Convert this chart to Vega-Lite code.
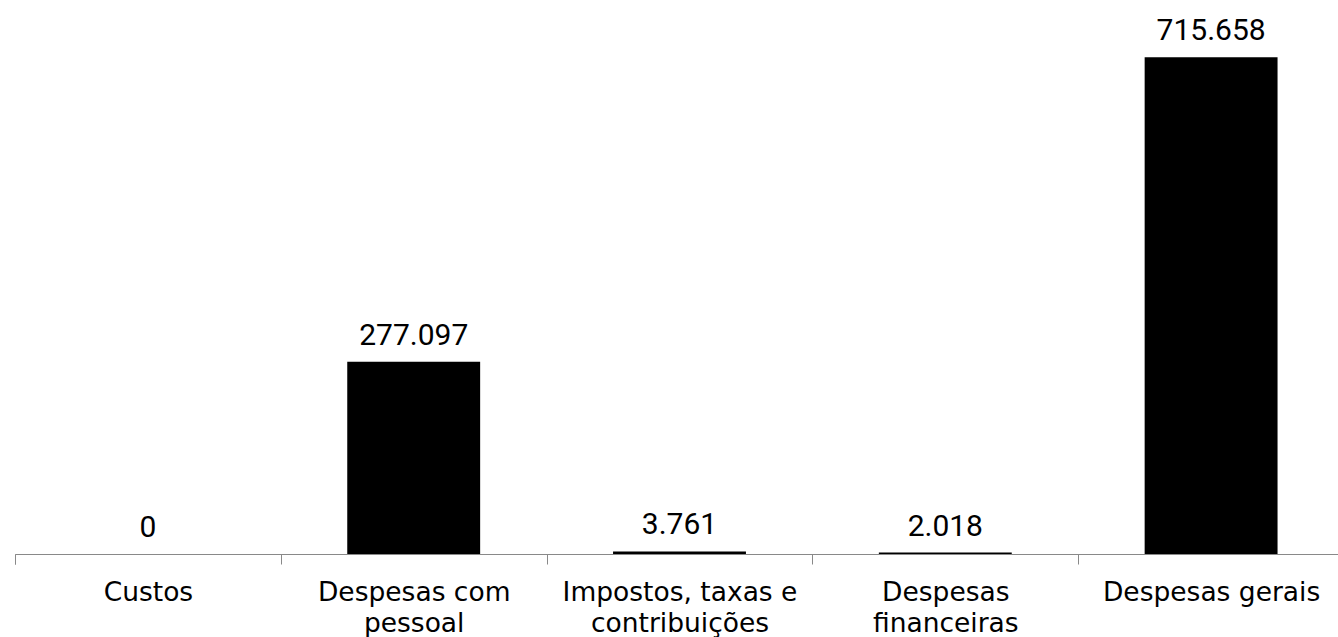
{
  "$schema": "https://vega.github.io/schema/vega-lite/v6.json",
  "autosize": {"type": "none"},
  "width": 1329,
  "height": 554,
  "padding": {"left": 15, "top": 0, "right": 0, "bottom": 83},
  "background": "white",
  "config": {
    "view": {"stroke": null},
    "locale": {"number": {"decimal": ",", "thousands": ".", "grouping": [3], "currency": ["R$ ", ""]}}
  },
  "data": {
    "values": [
      {"categoria": "Custos", "valor": 0},
      {"categoria": "Despesas com pessoal", "valor": 277097},
      {"categoria": "Impostos, taxas e contribuições", "valor": 3761},
      {"categoria": "Despesas financeiras", "valor": 2018},
      {"categoria": "Despesas gerais", "valor": 715658}
    ]
  },
  "encoding": {
    "x": {
      "field": "categoria",
      "type": "nominal",
      "sort": null,
      "scale": {"paddingInner": 0.5, "paddingOuter": 0.25},
      "axis": {
        "title": null,
        "labelAngle": 0,
        "bandPosition": 0,
        "tickOffset": -66.45,
        "labelOffset": 66.45,
        "tickExtra": true,
        "grid": false,
        "domainColor": "#898989",
        "tickColor": "#898989",
        "tickSize": 10,
        "labelFont": "DejaVu Sans",
        "labelFontSize": 26.5,
        "labelColor": "#000000",
        "labelPadding": 15,
        "labelLineHeight": 31,
        "labelLimit": 0,
        "labelExpr": "datum.label == 'Despesas com pessoal' ? ['Despesas com', 'pessoal'] : datum.label == 'Impostos, taxas e contribuições' ? ['Impostos, taxas e', 'contribuições'] : datum.label == 'Despesas financeiras' ? ['Despesas', 'financeiras'] : datum.label"
      }
    },
    "y": {
      "field": "valor",
      "type": "quantitative",
      "scale": {"domain": [0, 798000], "nice": false},
      "axis": null
    }
  },
  "layer": [
    {"mark": {"type": "bar", "color": "#000000"}},
    {
      "mark": {"type": "text", "font": "Roboto", "fontSize": 30, "dy": -17, "baseline": "alphabetic", "color": "#000000"},
      "encoding": {"text": {"field": "valor", "type": "quantitative", "format": ",d"}}
    }
  ]
}
